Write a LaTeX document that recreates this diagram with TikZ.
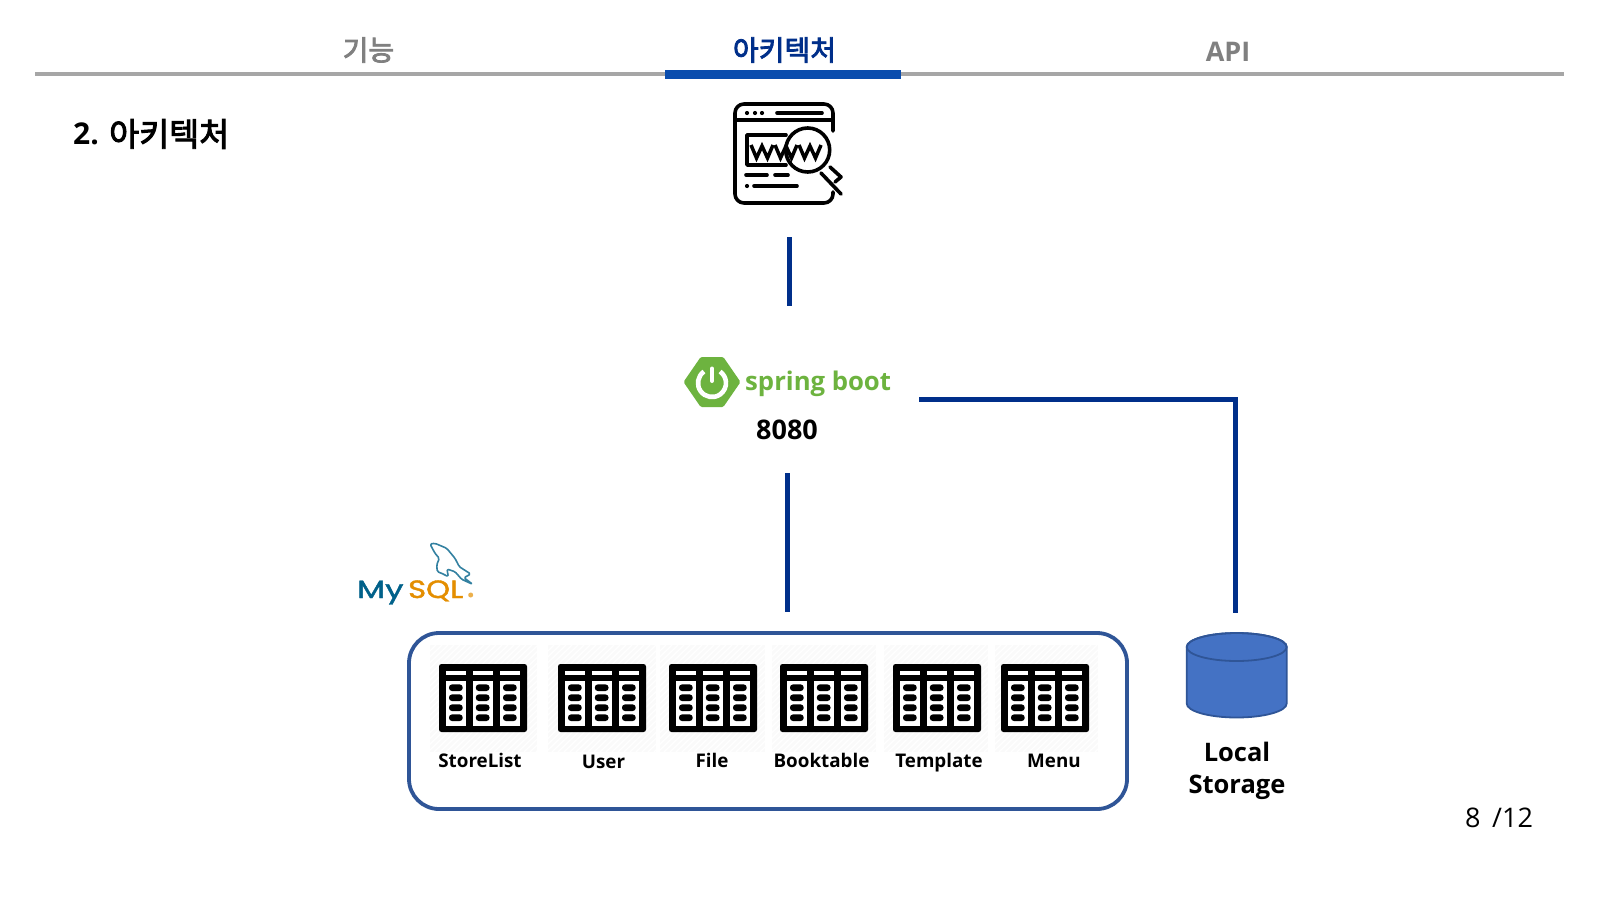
\documentclass[tikz,border=0pt]{standalone}
\usepackage{fontspec}
\setmainfont{Open Sans}
\newfontfamily\kr{Noto Sans CJK KR}[RawFeature={embolden=3}]
\newfontfamily\logofont{Poppins}[RawFeature={embolden=1.5}]
\usetikzlibrary{calc}
\definecolor{navy}{HTML}{002F8A}
\definecolor{headblue}{HTML}{0A4DAE}
\definecolor{boxblue}{HTML}{2F5597}
\definecolor{cylfill}{HTML}{4472C4}
\definecolor{springg}{HTML}{6DB33F}
\definecolor{mysqlb}{HTML}{00618A}
\definecolor{mysqlo}{HTML}{E48E00}
\tikzset{
  conn/.style={draw=navy,line width=5pt},
  rule/.style={draw=black!35,line width=4pt},
  tab/.style={font=\bfseries\fontsize{27}{30}\selectfont,anchor=center,inner sep=0pt},
  tbllabel/.style={font=\bfseries\fontsize{18.8}{24}\selectfont,text=black,anchor=base,inner sep=0pt},
  icon/.style={line width=3.6pt,line cap=round,line join=round,draw=black},
  www/.style={line width=3.5pt,line join=miter,draw=black},
}
\newcommand{\tableicon}[3]{%
  \begin{scope}
    \clip (#1,645) rectangle (#2,752);
    \fill[black!2] (#1,645) rectangle (#2,752);
    \foreach \k in {0,6,...,230}{
      \draw[white,line width=1.2pt] (#1+\k-110,752) -- (#1+\k,645);
    }
  \end{scope}
  \begin{scope}[shift={(#3,664)}]
    \fill[black,rounded corners=2.5pt] (0,0) rectangle (88,68);
    \foreach \cx in {6.7,33.5,60.7}{
      \fill[white] (\cx,7) rectangle (\cx+20.3,10.5);
      \fill[white] (\cx,17) rectangle (\cx+20.3,62);
      \foreach \cy in {23.7,33.7,43.7,53.7}{
        \fill[black,rounded corners=3pt] (\cx+3.3,\cy-3.3) rectangle (\cx+17,\cy+3.3);
      }
    }
  \end{scope}
}
\begin{document}
\begin{tikzpicture}[x=1pt,y=-1pt]
\useasboundingbox (0,0) rectangle (1600,900);
\fill[white] (0,0) rectangle (1600,900);

% header
\coordinate (ruleL) at (35,73.5);
\coordinate (ruleR) at (1564,73.5);
\draw[rule] (ruleL) -- (ruleR);
\fill[headblue] (665,69.5) rectangle (901,78.5);
\node[tab,text=black!50] (tab1) at (368.5,50) {\kr\mdseries\fontsize{28}{30}\selectfont 기능};
\node[tab,text=navy] (tab2) at (784.5,50) {\kr\mdseries\fontsize{28}{30}\selectfont 아키텍처};
\node[tab,text=black!50] (tab3) at (1228,51.5) {API};
\node[anchor=west,inner sep=0pt,font=\bfseries\fontsize{30}{34}\selectfont] (title) at (73,134) {2.};
\node[anchor=west,inner sep=0pt] (titlekr) at (109,134) {\kr\fontsize{32.6}{34}\selectfont 아키텍처};

% www icon
\draw[icon,rounded corners=9pt] (833,131) -- (833,104) -- (735,104) -- (735,203) -- (833,203) -- (833,192);
\draw[icon] (735,120) -- (833,120);
\foreach \dx in {747,755,762}{\fill (\dx,113) circle (2.1);}
\draw[icon] (777,113) -- (822,113);
\draw[icon] (786,135) -- (747,135) -- (747,165) -- (786,165);
\foreach \wx in {751,775,799}{
  \draw[www] (\wx,145) -- (\wx+5.5,158) -- (\wx+11,146) -- (\wx+16.5,158) -- (\wx+22,145);
}
\draw[icon] (807.7,150) circle (22);
\draw[icon] (746,175) -- (767,175);
\draw[icon] (775,175) -- (788,175);
\fill (747,186) circle (2.1);
\draw[icon] (754,186) -- (797,186);
\draw[icon] (821,173) -- (841,194);
\draw[icon] (830,167) -- (841,177) -- (835,182);

% connectors
\coordinate (a1) at (789,237);
\coordinate (a2) at (789,306);
\draw[conn] (a1) -- (a2);
\coordinate (b1) at (919,399);
\coordinate (b2) at (1235,399);
\coordinate (b3) at (1235,613);
\draw[conn] (b1) -- (b2) -- (b3);
\coordinate (c1) at (787,473);
\coordinate (c2) at (787,612);
\draw[conn] (c1) -- (c2);

% spring boot
\fill[springg,draw=springg,line width=5pt,line join=round] (686.5,382) -- (702,359.5) -- (722,359.5) -- (737.5,382) -- (722,404.5) -- (702,404.5) -- cycle;
\draw[white,line width=4.6pt,line cap=butt] (703.97,371.53) arc[start angle=235,end angle=-55,radius=14];
\draw[white,line width=4pt,line cap=round] (712,368.5) -- (712,381);
\node[anchor=base west,inner sep=0pt,text=springg,font=\bfseries\fontsize{25.7}{30}\selectfont] (spring) at (745,390) {spring boot};
\node[inner sep=0pt,font=\bfseries\fontsize{27}{30}\selectfont] (port) at (787,430) {8080};

% mysql
\node[anchor=base west,inner sep=0pt,text=mysqlb] (my) at (357,598) {\logofont\fontsize{25}{28}\selectfont\scalebox{1.3}[1]{My}};
\node[anchor=base west,inner sep=0pt,text=mysqlo] (sql) at (408,598) {\logofont\fontsize{25}{28}\selectfont\scalebox{1.22}[1]{SQL}};
\fill[mysqlo!70] (470.7,595) circle (2.5);
\draw[draw=mysqlb!80,line width=1.6pt,rounded corners=1.5pt,line join=round] (430,544) -- (435,543.3) -- (446.7,548.3) -- (455,558.3) -- (459.3,566.7) -- (470.7,574) -- (464,577.7) -- (472.7,584.3) -- (461.7,579.3) -- (455,571.7) -- (447,569) -- (448.3,576.7) -- (441.7,573.3) -- (437.3,571.7) -- (436.7,565) -- (439.3,558.3) -- (435,553.3) -- cycle;

% database box
\draw[boxblue,line width=3.8pt,rounded corners=30pt] (409,633) rectangle (1127,809);
\tableicon{430}{537}{439}
\tableicon{548}{656}{558}
\tableicon{660}{765}{669}
\tableicon{772}{876}{780}
\tableicon{884}{988}{893}
\tableicon{995}{1098}{1001}
\node[tbllabel] (t1) at (480,767) {StoreList};
\node[tbllabel] (t2) at (603.5,768) {User};
\node[tbllabel] (t3) at (712,767) {File};
\node[tbllabel] (t4) at (821.5,767) {Booktable};
\node[tbllabel] (t5) at (939,767) {Template};
\node[tbllabel] (t6) at (1054,767) {Menu};

% cylinder
\draw[fill=cylfill,draw=boxblue,line width=1.8pt] (1186.7,647) -- (1186.7,703.5) arc[start angle=180,end angle=0,x radius=50,y radius=14] -- (1286.7,647) arc[start angle=0,end angle=-180,x radius=50,y radius=14] -- cycle;
\draw[draw=boxblue,line width=1.8pt] (1236.7,647) ellipse [x radius=50,y radius=14];
\node[inner sep=0pt,font=\bfseries\fontsize{25.5}{32}\selectfont,align=center] (store) at (1237,771) {Local\\Storage};

% page number
\node[anchor=base west,inner sep=0pt,font=\fontsize{27}{30}\selectfont] (page) at (1465,827) {8\ \,/12};
\end{tikzpicture}
\end{document}
